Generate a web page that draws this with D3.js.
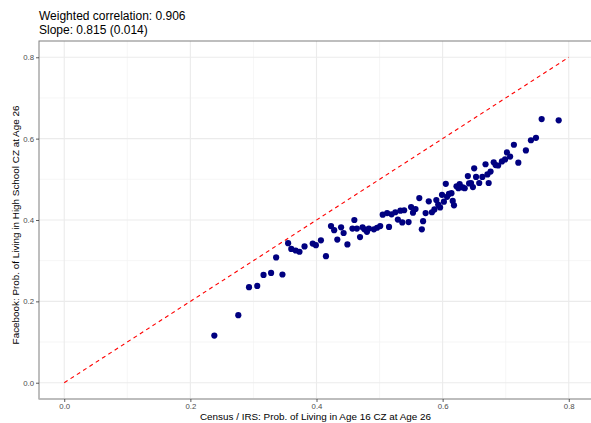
<!DOCTYPE html>
<html>
<head>
<meta charset="utf-8">
<script src="https://cdn.jsdelivr.net/npm/d3@7"></script>
<style>
body { margin: 0; background: #fff; }
svg { font-family: "Liberation Sans", Arial, sans-serif; }
</style>
</head>
<body>
<div id="chart"></div>
<script>
// x: census / IRS probability, y: facebook probability
var censusX = [0.238, 0.276, 0.293, 0.306, 0.316, 0.328, 0.346, 0.336, 0.355, 0.360,
    0.367, 0.373, 0.381, 0.394, 0.399, 0.407, 0.415, 0.423, 0.428, 0.433,
    0.439, 0.443, 0.449, 0.460, 0.457, 0.464, 0.469, 0.473, 0.476, 0.480,
    0.483, 0.491, 0.496, 0.501, 0.505, 0.512, 0.515, 0.519, 0.525, 0.529,
    0.533, 0.536, 0.539, 0.546, 0.550, 0.553, 0.557, 0.563, 0.567, 0.569,
    0.573, 0.578, 0.583, 0.587, 0.590, 0.593, 0.596, 0.599, 0.602, 0.605,
    0.607, 0.610, 0.614, 0.616, 0.618, 0.622, 0.625, 0.627, 0.632, 0.635,
    0.640, 0.642, 0.645, 0.648, 0.650, 0.653, 0.658, 0.663, 0.668, 0.671,
    0.673, 0.676, 0.681, 0.684, 0.688, 0.694, 0.699, 0.702, 0.707, 0.713,
    0.720, 0.732, 0.740, 0.748, 0.757, 0.784];
var facebookY = [0.116, 0.166, 0.235, 0.238, 0.265, 0.270, 0.266, 0.308, 0.343, 0.329,
    0.325, 0.322, 0.335, 0.342, 0.338, 0.350, 0.311, 0.385, 0.375, 0.352,
    0.382, 0.368, 0.340, 0.400, 0.379, 0.379, 0.358, 0.382, 0.377, 0.371,
    0.379, 0.377, 0.381, 0.385, 0.413, 0.417, 0.383, 0.414, 0.419, 0.401,
    0.423, 0.394, 0.424, 0.395, 0.432, 0.418, 0.427, 0.454, 0.377, 0.397,
    0.417, 0.446, 0.419, 0.426, 0.449, 0.438, 0.431, 0.462, 0.445, 0.489,
    0.457, 0.464, 0.466, 0.447, 0.436, 0.483, 0.478, 0.488, 0.480, 0.478,
    0.508, 0.490, 0.491, 0.481, 0.527, 0.506, 0.491, 0.506, 0.537, 0.512,
    0.491, 0.519, 0.542, 0.535, 0.534, 0.544, 0.549, 0.566, 0.556, 0.585,
    0.541, 0.571, 0.596, 0.602, 0.648, 0.645];

var majorTicks = [0, 0.2, 0.4, 0.6, 0.8];
var minorTicks = [0.1, 0.3, 0.5, 0.7];
var tickLabels = ["0.0", "0.2", "0.4", "0.6", "0.8"];
var diagonal = [0, 0.8];

var width = 591,
    height = 423,
    pLeft = 39, pRight = 594, pTop = 41, pBottom = 399;

var svg = d3.select("#chart").append("svg")
    .attr("width", width)
    .attr("height", height);

var x = d3.scaleLinear().domain([-0.04, 0.84]).range([pLeft, pRight]);
var y = d3.scaleLinear().domain([-0.04, 0.84]).range([pBottom, pTop]);

svg.append("defs").append("clipPath").attr("id", "clip")
    .append("rect")
    .attr("x", pLeft).attr("y", pTop)
    .attr("width", pRight - pLeft).attr("height", pBottom - pTop);

var panel = svg.append("g").attr("clip-path", "url(#clip)");

// minor grid
panel.selectAll(".minx").data(minorTicks).enter().append("line")
    .attr("x1", function(d) { return x(d); }).attr("x2", function(d) { return x(d); })
    .attr("y1", pTop).attr("y2", pBottom)
    .attr("stroke", "#f4f4f4").attr("stroke-width", 0.8);
panel.selectAll(".miny").data(minorTicks).enter().append("line")
    .attr("y1", function(d) { return y(d); }).attr("y2", function(d) { return y(d); })
    .attr("x1", pLeft).attr("x2", pRight)
    .attr("stroke", "#f4f4f4").attr("stroke-width", 0.8);

// major grid
panel.selectAll(".majx").data(majorTicks).enter().append("line")
    .attr("x1", function(d) { return x(d); }).attr("x2", function(d) { return x(d); })
    .attr("y1", pTop).attr("y2", pBottom)
    .attr("stroke", "#ebebeb").attr("stroke-width", 1.1);
panel.selectAll(".majy").data(majorTicks).enter().append("line")
    .attr("y1", function(d) { return y(d); }).attr("y2", function(d) { return y(d); })
    .attr("x1", pLeft).attr("x2", pRight)
    .attr("stroke", "#ebebeb").attr("stroke-width", 1.1);

// 45 degree line
panel.append("line")
    .attr("x1", x(diagonal[0])).attr("y1", y(diagonal[0]))
    .attr("x2", x(diagonal[1])).attr("y2", y(diagonal[1]))
    .attr("stroke", "#ff0000")
    .attr("stroke-width", 1.1)
    .attr("stroke-dasharray", "4,3.5");

// points
panel.selectAll("circle")
    .data(censusX)
    .enter().append("circle")
    .attr("cx", function(d) { return x(d); })
    .attr("cy", function(d, i) { return y(facebookY[i]); })
    .attr("r", 3.1)
    .attr("fill", "#000080");

// border
svg.append("rect")
    .attr("x", pLeft).attr("y", pTop)
    .attr("width", pRight - pLeft).attr("height", pBottom - pTop)
    .attr("fill", "none").attr("stroke", "#7f7f7f").attr("stroke-width", 1);
svg.append("line")
    .attr("x1", pLeft).attr("x2", pRight).attr("y1", pBottom).attr("y2", pBottom)
    .attr("stroke", "#bdbdbd").attr("stroke-width", 1.6);

// axes
var xAxis = svg.append("g")
    .attr("transform", "translate(0," + pBottom + ")")
    .call(d3.axisBottom(x).tickValues(majorTicks).tickSize(3).tickPadding(1.5)
        .tickFormat(function(d, i) { return tickLabels[i]; }));
var yAxis = svg.append("g")
    .attr("transform", "translate(" + pLeft + ",0)")
    .call(d3.axisLeft(y).tickValues(majorTicks).tickSize(3).tickPadding(2)
        .tickFormat(function(d, i) { return tickLabels[i]; }));

[xAxis, yAxis].forEach(function(a) {
    a.select(".domain").remove();
    a.selectAll(".tick line").attr("stroke", "#333333").attr("stroke-width", 0.8);
    a.selectAll(".tick text")
        .attr("fill", "#4d4d4d")
        .style("font-size", "7.8px")
        .style("font-family", "'Liberation Sans', Arial, sans-serif");
});

// titles
svg.append("text")
    .attr("x", pLeft).attr("y", 20)
    .style("font-size", "12px")
    .attr("fill", "#000")
    .text("Weighted correlation: 0.906");
svg.append("text")
    .attr("x", pLeft).attr("y", 33.5)
    .style("font-size", "12px")
    .attr("fill", "#000")
    .text("Slope: 0.815 (0.014)");

svg.append("text")
    .attr("x", (pLeft + pRight) / 2 - 1)
    .attr("y", 419.5)
    .attr("text-anchor", "middle")
    .style("font-size", "9.9px")
    .attr("fill", "#000")
    .text("Census / IRS: Prob. of Living in Age 16 CZ at Age 26");

svg.append("text")
    .attr("transform", "translate(18.5," + ((pTop + pBottom) / 2 + 5) + ") rotate(-90)")
    .attr("text-anchor", "middle")
    .style("font-size", "9.9px")
    .attr("fill", "#000")
    .text("Facebook: Prob. of Living in High School CZ at Age 26");
</script>
</body>
</html>
